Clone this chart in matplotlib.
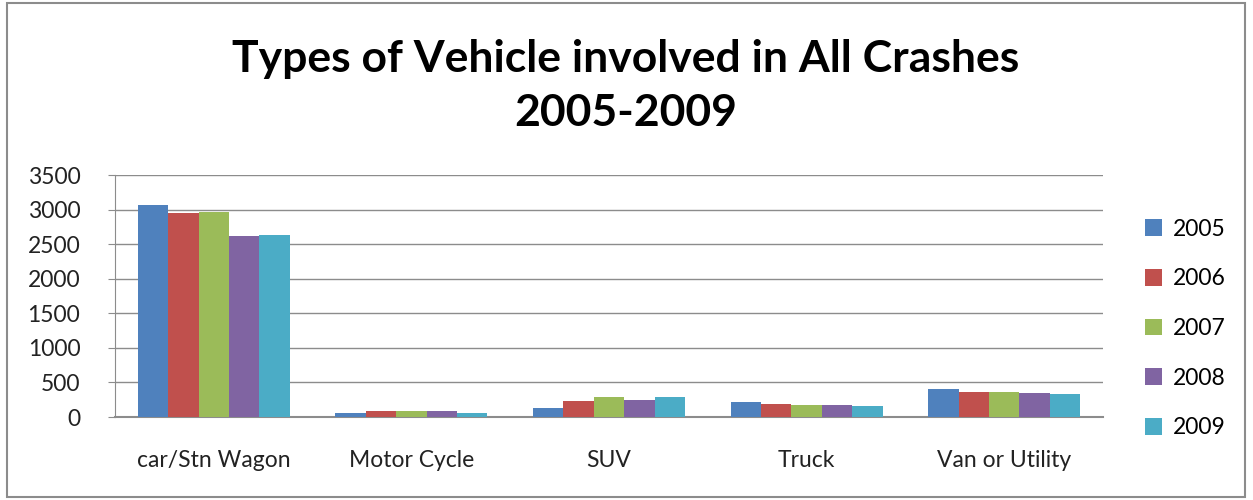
import matplotlib
matplotlib.use("Agg")
import matplotlib.pyplot as plt
import numpy as np
from matplotlib.patches import Rectangle

categories = ["car/Stn Wagon", "Motor Cycle", "SUV", "Truck", "Van or Utility"]
years = ["2005", "2006", "2007", "2008", "2009"]
values = {
    "2005": [3070, 64, 136, 212, 401],
    "2006": [2945, 82, 231, 193, 367],
    "2007": [2964, 82, 285, 179, 367],
    "2008": [2613, 82, 252, 179, 343],
    "2009": [2632, 64, 285, 159, 328],
}
colors = ["#4F81BD", "#C0504D", "#9BBB59", "#8064A2", "#4BACC6"]
yticks = [0, 500, 1000, 1500, 2000, 2500, 3000, 3500]

plt.rcParams['font.family'] = ['Lato', 'DejaVu Sans']

W, H = 1253, 500
fig = plt.figure(figsize=(W / 100, H / 100), dpi=100)
ax = fig.add_axes([115 / W, 1 - 417 / H, (1103 - 115) / W, (417 - 175) / H])

x = np.arange(len(categories))
bw = 0.154
for i, y in enumerate(years):
    ax.bar(x + (i - 2) * bw, values[y], width=bw, color=colors[i],
           label=y, zorder=3, edgecolor='none')

ax.set_xlim(-0.5, len(categories) - 0.5)
ax.set_ylim(0, 3500)
ax.set_yticks(yticks)
ax.set_yticklabels([str(t) for t in yticks], fontsize=16.5, color='#222222')
ax.set_xticks(x)
ax.set_xticklabels(categories, fontsize=16.5, color='#222222')
ax.tick_params(axis='x', length=0, pad=24)
ax.tick_params(axis='y', length=5, color='#8c8c8c', pad=20, direction='out')
ax.yaxis.grid(True, color='#8c8c8c', linewidth=1, zorder=0)
for s in ['top', 'right']:
    ax.spines[s].set_visible(False)
ax.spines['left'].set_color('#8c8c8c')
ax.spines['bottom'].set_color('#8c8c8c')
ax.spines['bottom'].set_linewidth(1.5)

fig.text(626 / W, 1 - 86 / H, "Types of Vehicle involved in All Crashes\n2005-2009",
         ha='center', va='center', fontsize=32, fontweight='bold',
         linespacing=1.4, color='black')

leg = fig.legend(loc='upper left', bbox_to_anchor=(1124 / W, 1 - 198 / H),
                 frameon=False, fontsize=16.5, handlelength=0.75, handleheight=0.75,
                 labelspacing=1.25, handletextpad=0.5)

fig.patches.append(Rectangle((7 / W, 3 / H), (1245 - 7) / W, (497 - 3) / H,
                             transform=fig.transFigure, fill=False,
                             edgecolor='#8c8c8c', linewidth=1.5))

fig.savefig("out.png", dpi=100)
